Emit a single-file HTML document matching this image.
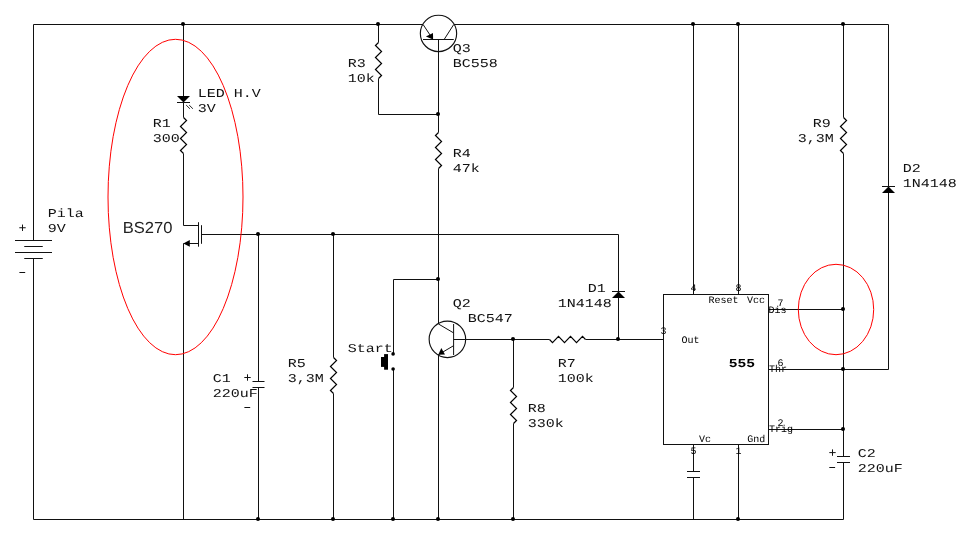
<!DOCTYPE html>
<html><head><meta charset="utf-8"><title>Circuit</title>
<style>
html,body{margin:0;padding:0;background:#fff;}
svg{display:block;will-change:transform;}
text{text-rendering:geometricPrecision;}
.w{stroke:#111;stroke-width:1;fill:none;stroke-linecap:butt;stroke-linejoin:miter;}
.c{stroke:#111;stroke-width:1.15;fill:none;}
.z{stroke:#000;stroke-width:1.2;fill:none;stroke-linejoin:miter;}
.s{stroke:#111;stroke-width:1;fill:none;}
.g{stroke:#222;stroke-width:1;fill:none;}
.f{fill:#000;stroke:none;}
.d{fill:#000;stroke:none;}
.r{stroke:#f00;stroke-width:1;fill:none;}
.t{font-family:"Liberation Mono",monospace;font-size:12px;fill:#111;}
.tb{font-family:"Liberation Mono",monospace;font-size:12px;font-weight:bold;fill:#000;}
.ts{font-family:"Liberation Mono",monospace;font-size:10px;fill:#000;}
.bs{font-family:"Liberation Sans",sans-serif;font-size:16px;fill:#222;}
</style></head><body>
<svg width="970" height="536" viewBox="0 0 970 536">
<rect x="0" y="0" width="970" height="536" fill="#fff"/>
<polyline class="w" points="33.5,240.5 33.5,24.5 423,24.5"/>
<line class="w" x1="454.2" y1="24.5" x2="888.5" y2="24.5"/>
<polyline class="w" points="33.5,258.5 33.5,519.5 843.5,519.5 843.5,462.5"/>
<line class="w" x1="15" y1="240.5" x2="52" y2="240.5"/>
<line class="w" x1="24.25" y1="246.5" x2="42.75" y2="246.5"/>
<line class="w" x1="15" y1="252.5" x2="52" y2="252.5"/>
<line class="w" x1="24.25" y1="258.5" x2="42.75" y2="258.5"/>
<line class="s" x1="19.3" y1="227.75" x2="25.7" y2="227.75"/>
<line class="s" x1="22.5" y1="224.55" x2="22.5" y2="230.95"/>
<line class="s" x1="19.4" y1="272.5" x2="25.2" y2="272.5"/>
<line class="w" x1="183.5" y1="24.5" x2="183.5" y2="96.5"/>
<polygon class="f" points="177,96 190,96 183.5,102.4"/>
<line class="w" x1="177" y1="102.5" x2="190" y2="102.5"/>
<line class="w" x1="183.5" y1="102.5" x2="183.5" y2="117.5"/>
<line class="g" x1="186.2" y1="105.1" x2="189.9" y2="108.75"/>
<line class="g" x1="189.2" y1="105.1" x2="192.9" y2="108.75"/>
<polyline class="z" points="183.5,117.5 186.55,120.5 180.45,126.5 186.55,132.5 180.45,138.5 186.55,144.5 180.45,150.5 183.5,153.5"/>
<polyline class="w" points="183.5,153.5 183.5,225.5 198.5,225.5"/>
<line class="w" x1="198.5" y1="222.2" x2="198.5" y2="246.7"/>
<line class="w" x1="201.5" y1="225.2" x2="201.5" y2="243.8"/>
<line class="w" x1="183.5" y1="243.5" x2="198.5" y2="243.5"/>
<polygon class="f" points="183.3,243.4 189.8,240.1 189.8,246.7"/>
<line class="w" x1="183.5" y1="243.5" x2="183.5" y2="519.5"/>
<polyline class="w" points="201.5,234.5 618.5,234.5 618.5,291.5"/>
<line class="w" x1="258.5" y1="234.5" x2="258.5" y2="381.5"/>
<line class="w" x1="252.5" y1="381.5" x2="264.5" y2="381.5"/>
<line class="w" x1="252.5" y1="387.5" x2="264.5" y2="387.5"/>
<line class="w" x1="258.5" y1="387.5" x2="258.5" y2="519.5"/>
<line class="s" x1="244.3" y1="377.5" x2="250.7" y2="377.5"/>
<line class="s" x1="247.5" y1="374.3" x2="247.5" y2="380.7"/>
<line class="s" x1="244.4" y1="407.5" x2="250.2" y2="407.5"/>
<line class="w" x1="333.5" y1="234.5" x2="333.5" y2="357.5"/>
<polyline class="z" points="333.5,357.5 336.55,360.5 330.45,366.5 336.55,372.5 330.45,378.5 336.55,384.5 330.45,390.5 333.5,393.5"/>
<line class="w" x1="333.5" y1="393.5" x2="333.5" y2="519.5"/>
<line class="w" x1="378.5" y1="24.5" x2="378.5" y2="42.5"/>
<polyline class="z" points="378.5,42.5 375.45,45.5 381.55,51.5 375.45,57.5 381.55,63.5 375.45,69.5 381.55,75.5 378.5,78.5"/>
<polyline class="w" points="378.5,78.5 378.5,114.5 438.5,114.5"/>
<circle class="c" cx="438.5" cy="33.4" r="18.15"/>
<line class="w" x1="423" y1="39.5" x2="453.75" y2="39.5"/>
<line class="w" x1="423" y1="24.4" x2="432.9" y2="39.3"/>
<polygon class="f" points="433.1,39.4 425.9,36.4 433,33.0"/>
<line class="w" x1="444.2" y1="39.4" x2="453.8" y2="24.4"/>
<line class="w" x1="438.5" y1="39.5" x2="438.5" y2="132.5"/>
<polyline class="z" points="438.5,132.5 435.45,135.5 441.55,141.5 435.45,147.5 441.55,153.5 435.45,159.5 441.55,165.5 438.5,168.5"/>
<line class="w" x1="438.5" y1="168.5" x2="438.5" y2="324"/>
<polyline class="w" points="438.5,279.5 393.5,279.5 393.5,353.5"/>
<line class="w" x1="393.5" y1="369" x2="393.5" y2="519.5"/>
<rect class="f" x="384.1" y="354.1" width="3.9" height="15.6"/>
<rect class="f" x="381" y="357" width="4" height="9.9"/>
<circle class="c" cx="447.4" cy="339.3" r="18.25"/>
<line class="w" x1="453.6" y1="324" x2="453.6" y2="355"/>
<line class="w" x1="438.5" y1="324" x2="453.6" y2="332.9"/>
<line class="w" x1="453.6" y1="345.7" x2="438.5" y2="354.6"/>
<polygon class="f" points="438.3,354.8 441.3,348 445,354.4"/>
<line class="w" x1="438.5" y1="354.6" x2="438.5" y2="519.5"/>
<line class="w" x1="453.6" y1="339.5" x2="549.5" y2="339.5"/>
<polyline class="z" points="549.5,339.5 552.5,342.55 558.5,336.45 564.5,342.55 570.5,336.45 576.5,342.55 582.5,336.45 585.5,339.5"/>
<line class="w" x1="585.5" y1="339.5" x2="663.5" y2="339.5"/>
<line class="w" x1="513.5" y1="339.5" x2="513.5" y2="387.5"/>
<polyline class="z" points="513.5,387.5 510.45,390.5 516.55,396.5 510.45,402.5 516.55,408.5 510.45,414.5 516.55,420.5 513.5,423.5"/>
<line class="w" x1="513.5" y1="423.5" x2="513.5" y2="519.5"/>
<polygon class="f" points="612,298 625,298 618.5,291.4"/>
<line class="w" x1="612" y1="291.5" x2="625" y2="291.5"/>
<line class="w" x1="618.5" y1="297.5" x2="618.5" y2="339.5"/>
<rect class="w" x="663.5" y="294.5" width="105" height="150"/>
<line class="w" x1="693.5" y1="24.5" x2="693.5" y2="294.5"/>
<line class="w" x1="738.5" y1="24.5" x2="738.5" y2="294.5"/>
<line class="w" x1="693.5" y1="444.5" x2="693.5" y2="471.5"/>
<line class="w" x1="687" y1="471.5" x2="700" y2="471.5"/>
<line class="w" x1="687" y1="477.5" x2="700" y2="477.5"/>
<line class="w" x1="693.5" y1="477.5" x2="693.5" y2="519.5"/>
<line class="w" x1="738.5" y1="444.5" x2="738.5" y2="519.5"/>
<line class="w" x1="768.5" y1="309.5" x2="843.5" y2="309.5"/>
<polyline class="w" points="768.5,369.5 888.5,369.5 888.5,192.5"/>
<line class="w" x1="768.5" y1="429.5" x2="843.5" y2="429.5"/>
<line class="w" x1="843.5" y1="24.5" x2="843.5" y2="117.5"/>
<polyline class="z" points="843.5,117.5 846.55,120.5 840.45,126.5 846.55,132.5 840.45,138.5 846.55,144.5 840.45,150.5 843.5,153.5"/>
<line class="w" x1="843.5" y1="153.5" x2="843.5" y2="456.5"/>
<line class="w" x1="837" y1="456.5" x2="850" y2="456.5"/>
<line class="w" x1="837" y1="462.5" x2="850" y2="462.5"/>
<line class="s" x1="829.3" y1="452.6" x2="835.7" y2="452.6"/>
<line class="s" x1="832.5" y1="449.4" x2="832.5" y2="455.8"/>
<line class="s" x1="829.3" y1="467.5" x2="835.1" y2="467.5"/>
<line class="w" x1="888.5" y1="24.5" x2="888.5" y2="186.5"/>
<polygon class="f" points="882,193 895,193 888.5,186.4"/>
<line class="w" x1="882" y1="186.5" x2="895" y2="186.5"/>
<circle class="d" cx="183" cy="24" r="2"/>
<circle class="d" cx="378" cy="24" r="2"/>
<circle class="d" cx="693" cy="24" r="2"/>
<circle class="d" cx="738" cy="24" r="2"/>
<circle class="d" cx="843" cy="24" r="2"/>
<circle class="d" cx="438" cy="114" r="2"/>
<circle class="d" cx="258" cy="234" r="2"/>
<circle class="d" cx="333" cy="234" r="2"/>
<circle class="d" cx="438" cy="279" r="2"/>
<circle class="d" cx="513" cy="339" r="2"/>
<circle class="d" cx="618" cy="339" r="2"/>
<circle class="d" cx="258" cy="519" r="2"/>
<circle class="d" cx="333" cy="519" r="2"/>
<circle class="d" cx="393" cy="519" r="2"/>
<circle class="d" cx="438" cy="519" r="2"/>
<circle class="d" cx="513" cy="519" r="2"/>
<circle class="d" cx="738" cy="519" r="2"/>
<circle class="d" cx="843" cy="309" r="2"/>
<circle class="d" cx="843" cy="369" r="2"/>
<circle class="d" cx="843" cy="429" r="2"/>
<circle class="d" cx="393.1" cy="353.9" r="1.8"/>
<circle class="d" cx="393.1" cy="369" r="1.8"/>
<ellipse class="r" cx="175.5" cy="197" rx="67.5" ry="157.7"/>
<ellipse class="r" cx="836" cy="309.5" rx="37.7" ry="45.2"/>
<text class="t" transform="translate(197.8,97) scale(1.2500,1)">LED H.V</text>
<text class="t" transform="translate(197.8,112) scale(1.2500,1)">3V</text>
<text class="t" transform="translate(152.8,127) scale(1.2500,1)">R1</text>
<text class="t" transform="translate(152.8,142) scale(1.2500,1)">300</text>
<text class="t" transform="translate(47.8,217) scale(1.2500,1)">Pila</text>
<text class="t" transform="translate(47.8,232) scale(1.2500,1)">9V</text>
<text class="t" transform="translate(347.8,67) scale(1.2500,1)">R3</text>
<text class="t" transform="translate(347.8,82) scale(1.2500,1)">10k</text>
<text class="t" transform="translate(452.8,52) scale(1.2500,1)">Q3</text>
<text class="t" transform="translate(452.8,67) scale(1.2500,1)">BC558</text>
<text class="t" transform="translate(452.8,157) scale(1.2500,1)">R4</text>
<text class="t" transform="translate(452.8,172) scale(1.2500,1)">47k</text>
<text class="t" transform="translate(212.8,382) scale(1.2500,1)">C1</text>
<text class="t" transform="translate(212.8,397) scale(1.2500,1)">220uF</text>
<text class="t" transform="translate(287.8,367) scale(1.2500,1)">R5</text>
<text class="t" transform="translate(287.8,382) scale(1.2500,1)">3,3M</text>
<text class="t" transform="translate(347.8,352) scale(1.2500,1)">Start</text>
<text class="t" transform="translate(452.8,307) scale(1.2500,1)">Q2</text>
<text class="t" transform="translate(467.8,322) scale(1.2500,1)">BC547</text>
<text class="t" transform="translate(587.8,292) scale(1.2500,1)">D1</text>
<text class="t" transform="translate(557.8,307) scale(1.2500,1)">1N4148</text>
<text class="t" transform="translate(557.8,367) scale(1.2500,1)">R7</text>
<text class="t" transform="translate(557.8,382) scale(1.2500,1)">100k</text>
<text class="t" transform="translate(527.8,412) scale(1.2500,1)">R8</text>
<text class="t" transform="translate(527.8,427) scale(1.2500,1)">330k</text>
<text class="t" transform="translate(812.8,127) scale(1.2500,1)">R9</text>
<text class="t" transform="translate(797.8,142) scale(1.2500,1)">3,3M</text>
<text class="t" transform="translate(902.8,172) scale(1.2500,1)">D2</text>
<text class="t" transform="translate(902.8,187) scale(1.2500,1)">1N4148</text>
<text class="t" transform="translate(857.8,457) scale(1.2500,1)">C2</text>
<text class="t" transform="translate(857.8,472) scale(1.2500,1)">220uF</text>
<text class="tb" transform="translate(728.7,367) scale(1.2200,1)">555</text>
<text class="bs" transform="translate(122.7,233.4) scale(1.035,1)">BS270</text>
<text class="ts" transform="translate(690.5,291) scale(1.0000,1)">4</text>
<text class="ts" transform="translate(735.5,291) scale(1.0000,1)">8</text>
<text class="ts" transform="translate(708.5,302.7) scale(1.0000,1)">Reset</text>
<text class="ts" transform="translate(747,302.7) scale(1.0000,1)">Vcc</text>
<text class="ts" transform="translate(777.5,305.8) scale(1.0000,1)">7</text>
<text class="ts" transform="translate(768.5,312.8) scale(1.0000,1)">Dis</text>
<text class="ts" transform="translate(660.5,334) scale(1.0000,1)">3</text>
<text class="ts" transform="translate(681.5,342.7) scale(1.0000,1)">Out</text>
<text class="ts" transform="translate(777.5,366.4) scale(1.0000,1)">6</text>
<text class="ts" transform="translate(769,371.8) scale(1.0000,1)">Thr</text>
<text class="ts" transform="translate(777.5,426) scale(1.0000,1)">2</text>
<text class="ts" transform="translate(769,432.4) scale(1.0000,1)">Trig</text>
<text class="ts" transform="translate(747.3,442.3) scale(1.0000,1)">Gnd</text>
<text class="ts" transform="translate(699,442) scale(1.0000,1)">Vc</text>
<text class="ts" transform="translate(690.5,454) scale(1.0000,1)">5</text>
<text class="ts" transform="translate(735.5,454.3) scale(1.0000,1)">1</text>
</svg>
</body></html>
